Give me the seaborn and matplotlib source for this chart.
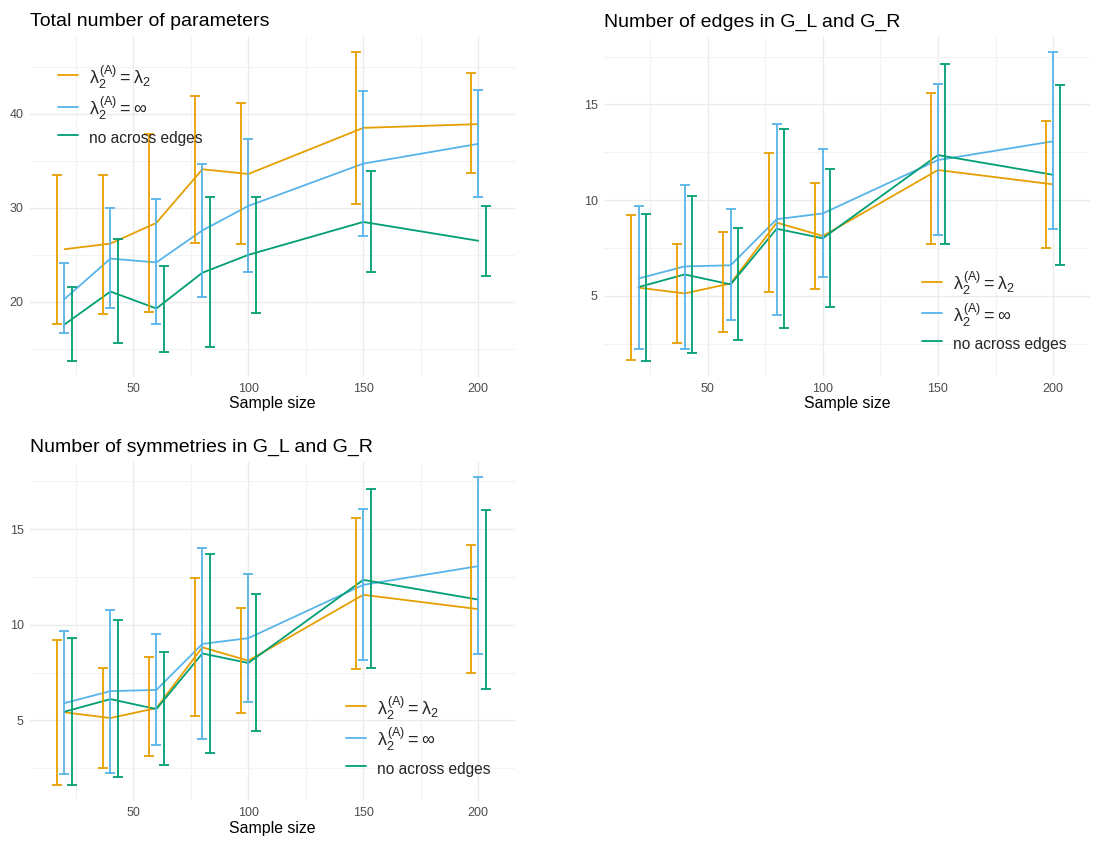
import matplotlib
matplotlib.use('Agg')
import matplotlib.pyplot as plt
from matplotlib.ticker import MultipleLocator
import numpy as np
import pandas as pd
import seaborn as sns

# sample sizes and method labels
sample_size = [20, 40, 60, 80, 100, 150, 200]
methods = [r'$\lambda_2^{(A)} = \lambda_2$', r'$\lambda_2^{(A)} = \infty$', 'no across edges']
colors = ['#E69F00', '#56B4E9', '#009E73']

# Total number of parameters: mean, lower, upper for each method
params_mean = {
    methods[0]: [25.6, 26.2, 28.4, 34.1, 33.6, 38.5, 38.9],
    methods[1]: [20.3, 24.6, 24.2, 27.6, 30.2, 34.7, 36.8],
    methods[2]: [17.6, 21.1, 19.3, 23.1, 25.0, 28.5, 26.5],
}
params_lo = {
    methods[0]: [17.6, 18.7, 18.9, 26.3, 26.2, 30.4, 33.7],
    methods[1]: [16.7, 19.3, 17.6, 20.5, 23.2, 27.0, 31.1],
    methods[2]: [13.7, 15.6, 14.7, 15.2, 18.8, 23.2, 22.8],
}
params_hi = {
    methods[0]: [33.5, 33.5, 37.8, 41.9, 41.1, 46.6, 44.3],
    methods[1]: [24.1, 30.0, 30.9, 34.7, 37.3, 42.4, 42.5],
    methods[2]: [21.6, 26.7, 23.8, 31.1, 31.1, 33.9, 30.2],
}

# Number of edges (same numbers shown for symmetries)
edges_mean = {
    methods[0]: [5.42, 5.12, 5.64, 8.82, 8.12, 11.57, 10.82],
    methods[1]: [5.90, 6.53, 6.59, 9.00, 9.30, 12.09, 13.07],
    methods[2]: [5.45, 6.11, 5.59, 8.50, 8.00, 12.35, 11.32],
}
edges_lo = {
    methods[0]: [1.64, 2.53, 3.12, 5.21, 5.37, 7.68, 7.49],
    methods[1]: [2.20, 2.23, 3.71, 4.00, 5.96, 8.15, 8.48],
    methods[2]: [1.59, 2.02, 2.68, 3.31, 4.43, 7.72, 6.62],
}
edges_hi = {
    methods[0]: [9.20, 7.72, 8.34, 12.44, 10.89, 15.57, 14.15],
    methods[1]: [9.67, 10.80, 9.51, 14.00, 12.68, 16.05, 17.73],
    methods[2]: [9.29, 10.23, 8.55, 13.71, 11.62, 17.11, 16.01],
}

sym_mean, sym_lo, sym_hi = edges_mean, edges_lo, edges_hi

sns.set_theme(style='white')
plt.rcParams['font.family'] = ['Liberation Sans', 'DejaVu Sans']
plt.rcParams['mathtext.fontset'] = 'custom'
plt.rcParams['mathtext.rm'] = 'Liberation Sans'
plt.rcParams['mathtext.it'] = 'Liberation Sans'
plt.rcParams['mathtext.bf'] = 'Liberation Sans:bold'


def to_long(mean, lo, hi):
    rows = []
    for m in methods:
        for n, v, l, h in zip(sample_size, mean[m], lo[m], hi[m]):
            rows.append({'n': n, 'method': m, 'mean': v, 'lo': l, 'hi': h})
    return pd.DataFrame(rows)


def draw_panel(ax, df, title, legend_anchor, legend_loc):
    sns.lineplot(data=df, x='n', y='mean', hue='method', hue_order=methods,
                 palette=colors, ax=ax, linewidth=1.3, estimator=None, errorbar=None)
    offsets = [-3.2, 0, 3.2]
    for m, c, off in zip(methods, colors, offsets):
        d = df[df['method'] == m]
        ax.errorbar(d['n'] + off, d['mean'],
                    yerr=[d['mean'] - d['lo'], d['hi'] - d['mean']],
                    fmt='none', ecolor=c, elinewidth=1.3, capsize=3.6, capthick=1.3)
    ax.set_xlim(5, 216)
    lo_all, hi_all = df['lo'].min(), df['hi'].max()
    pad = (hi_all - lo_all) * 0.05
    ax.set_ylim(lo_all - pad, hi_all + pad)
    ax.xaxis.set_major_locator(MultipleLocator(50))
    ax.xaxis.set_minor_locator(MultipleLocator(25))
    ymaj = 10 if hi_all > 30 else 5
    ax.yaxis.set_major_locator(MultipleLocator(ymaj))
    ax.yaxis.set_minor_locator(MultipleLocator(ymaj / 2))
    ax.set_xticks([50, 100, 150, 200])
    ax.grid(which='major', color='#EBEBEB', linewidth=1.0)
    ax.grid(which='minor', color='#F3F3F3', linewidth=0.8)
    ax.set_axisbelow(True)
    for s in ax.spines.values():
        s.set_visible(False)
    ax.tick_params(which='both', length=0, labelsize=9, colors='#4D4D4D', pad=4.5)
    ax.set_xlabel('Sample size', fontsize=11.4, color='black', labelpad=1)
    ax.set_ylabel('')
    ax.set_title(title, loc='left', fontsize=14, color='black', pad=7)
    leg = ax.legend(title=None, loc=legend_loc, bbox_to_anchor=legend_anchor,
                    frameon=False, fontsize=11.2, borderpad=0, borderaxespad=0,
                    handlelength=1.3, handletextpad=0.7, labelspacing=0.28,
                    handleheight=1.9)
    for line in leg.get_lines():
        line.set_linewidth(1.3)
    # the plotmath labels are drawn a bit larger in the original
    for t in leg.get_texts()[:2]:
        t.set_fontsize(13)


fig = plt.figure(figsize=(11.06, 8.46), dpi=100)
ax1 = fig.add_axes([0.0271, 0.5548, 0.4385, 0.4024])
ax2 = fig.add_axes([0.5461, 0.5551, 0.4394, 0.4015])
ax3 = fig.add_axes([0.0271, 0.0533, 0.4385, 0.4010])

draw_panel(ax1, to_long(params_mean, params_lo, params_hi),
           'Total number of parameters', (0.058, 0.92), 'upper left')
draw_panel(ax2, to_long(edges_mean, edges_lo, edges_hi),
           'Number of edges in G_L and G_R', (0.654, 0.06), 'lower left')
draw_panel(ax3, to_long(sym_mean, sym_lo, sym_hi),
           'Number of symmetries in G_L and G_R', (0.651, 0.06), 'lower left')

fig.savefig('out.png', dpi=100)
